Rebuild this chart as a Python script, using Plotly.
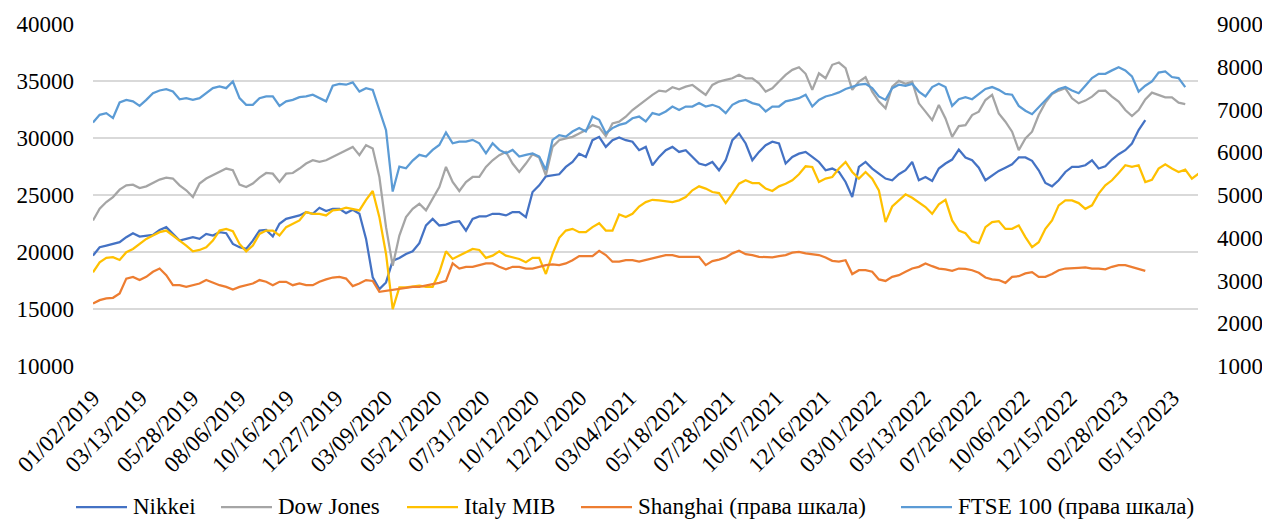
import pandas as pd
import plotly.graph_objects as go

# ---- category (date) grid: samples ~every 9.83 days starting 2019-01-02 ----
start_date = "2019-01-02"
step = "236h"

tick_labels = ["01/02/2019", "03/13/2019", "05/28/2019", "08/06/2019", "10/16/2019",
               "12/27/2019", "03/09/2020", "05/21/2020", "07/31/2020", "10/12/2020",
               "12/21/2020", "03/04/2021", "05/18/2021", "07/28/2021", "10/07/2021",
               "12/16/2021", "03/01/2022", "05/13/2022", "07/26/2022", "10/06/2022",
               "12/15/2022", "02/28/2023", "05/15/2023"]

nikkei = [19680, 20420, 20560, 20710, 20860, 21300, 21650, 21360, 21450, 21500,
          21940, 22180, 21590, 21000, 21150, 21300, 21150, 21590, 21450, 21740,
          21650, 20710, 20420, 20270, 21000, 21880, 21940, 21360, 22470, 22910,
          23060, 23210, 23500, 23350, 23880, 23590, 23790, 23790, 23410, 23700,
          23350, 21150, 17780, 16750, 17330, 19240, 19480, 19830, 20070, 20770,
          22330, 22910, 22330, 22410, 22620, 22710, 21880, 22910, 23120, 23120,
          23350, 23350, 23210, 23500, 23500, 23060, 25260, 25850, 26640, 26730,
          26820, 27460, 27900, 28630, 28340, 29810, 30100, 29220, 29810, 30050,
          29810, 29670, 28930, 29220, 27610, 28340, 28930, 29220, 28780, 28930,
          28340, 27760, 27610, 27900, 27170, 28050, 29810, 30400, 29520, 28050,
          28780, 29370, 29670, 29520, 27760, 28340, 28630, 28780, 28340, 27900,
          27170, 27320, 27020, 26140, 24820, 27460, 27900, 27320, 26880, 26440,
          26290, 26820, 27170, 27900, 26290, 26580, 26230, 27320, 27760, 28110,
          28990, 28290, 28050, 27400, 26290, 26730, 27110, 27400, 27700, 28290,
          28290, 28000, 27170, 26050, 25760, 26290, 27020, 27460, 27460, 27610,
          28050, 27320, 27520, 28110, 28580, 28930, 29520, 30700, 31570]

dow_jones = [22770, 23790, 24380, 24820, 25470, 25850, 25910, 25610, 25760, 26050,
             26350, 26520, 26440, 25850, 25410, 24820, 26000, 26440, 26730, 27020,
             27320, 27170, 25910, 25700, 26000, 26520, 26930, 26870, 26140, 26870,
             26930, 27320, 27760, 28050, 27900, 28050, 28340, 28580, 28930, 29220,
             28490, 29370, 29080, 26580, 22180, 18800, 21440, 23060, 23790, 24230,
             23650, 24670, 25700, 27460, 26140, 25350, 26140, 26580, 26580, 27460,
             28050, 28490, 28780, 27760, 27020, 27760, 28580, 28290, 26730, 29220,
             29810, 29960, 30100, 30400, 30690, 31130, 30930, 30160, 31280, 31430,
             31870, 32450, 32900, 33330, 33780, 34160, 34070, 34450, 34270, 34510,
             34660, 34210, 33780, 34660, 34950, 35100, 35240, 35540, 35240, 35240,
             34800, 34070, 34360, 34950, 35540, 35980, 36210, 35630, 34220, 35680,
             35240, 36420, 36620, 36120, 34220, 34950, 35330, 34070, 33190, 32600,
             34510, 35010, 34750, 34950, 33040, 32310, 31570, 32900, 31720, 30100,
             31040, 31130, 32010, 32310, 33330, 33780, 32160, 31430, 30550, 28930,
             29960, 30550, 32010, 33100, 33860, 34160, 34360, 33480, 33040, 33280,
             33630, 34130, 34160, 33630, 33190, 32450, 31930, 32450, 33390, 33980,
             33780, 33570, 33570, 33100, 32980]

italy_mib = [18220, 19100, 19480, 19540, 19300, 19980, 20270, 20710, 21150, 21450,
             21740, 21880, 21450, 21000, 20560, 20060, 20180, 20420, 21000, 21880,
             22030, 21820, 20710, 20060, 20560, 21590, 21880, 21880, 21450, 22180,
             22470, 22770, 23500, 23350, 23350, 23210, 23650, 23710, 23880, 23790,
             23650, 24580, 25350, 23060, 19830, 14990, 16890, 16890, 16950, 17040,
             16950, 16950, 18220, 20060, 19390, 19680, 19980, 20270, 20180, 19480,
             19680, 20060, 19680, 19540, 19390, 19100, 19480, 19480, 18070, 19830,
             21240, 21880, 22030, 21740, 21740, 22180, 22530, 21880, 21880, 23290,
             23060, 23350, 23990, 24380, 24580, 24530, 24470, 24380, 24530, 24820,
             25410, 25760, 25560, 25260, 25170, 24290, 25120, 25990, 26290, 26050,
             26050, 25560, 25350, 25760, 25990, 26290, 26820, 27520, 27460, 26140,
             26440, 26580, 27320, 27900, 27020, 26440, 27020, 26440, 25410, 22620,
             23990, 24530, 25060, 24760, 24380, 23940, 23350, 24180, 24580, 22770,
             21880, 21650, 20950, 20770, 22180, 22620, 22710, 22030, 22030, 22330,
             21300, 20420, 20860, 22030, 22770, 24090, 24530, 24530, 24290, 23790,
             24090, 25120, 25850, 26290, 26940, 27610, 27460, 27610, 26140, 26340,
             27320, 27700, 27320, 27020, 27230, 26440, 26880]

shanghai = [2460, 2540, 2580, 2595, 2695, 3045, 3085, 3010, 3085, 3205,
            3280, 3125, 2890, 2890, 2850, 2890, 2930, 3010, 2945, 2890,
            2850, 2790, 2850, 2890, 2930, 3010, 2970, 2890, 2970, 2970,
            2890, 2930, 2890, 2890, 2970, 3025, 3070, 3085, 3045, 2870,
            2930, 3010, 2990, 2735, 2760, 2790, 2810, 2835, 2850, 2850,
            2890, 2915, 2945, 2990, 3400, 3280, 3320, 3320, 3360, 3400,
            3400, 3320, 3260, 3320, 3320, 3280, 3280, 3320, 3360, 3380,
            3360, 3400, 3475, 3570, 3570, 3570, 3695, 3595, 3440, 3440,
            3475, 3475, 3440, 3475, 3515, 3555, 3595, 3595, 3555, 3555,
            3555, 3555, 3360, 3455, 3490, 3540, 3635, 3695, 3615, 3595,
            3555, 3555, 3540, 3570, 3595, 3650, 3670, 3635, 3615, 3595,
            3540, 3460, 3440, 3475, 3150, 3240, 3240, 3205, 3025, 2990,
            3085, 3125, 3205, 3280, 3320, 3400, 3335, 3280, 3260, 3225,
            3280, 3270, 3240, 3180, 3070, 3025, 3010, 2945, 3085, 3100,
            3165, 3195, 3085, 3085, 3150, 3240, 3280, 3280, 3295, 3305,
            3280, 3280, 3260, 3320, 3360, 3360, 3320, 3280, 3225]

ftse100 = [6695, 6875, 6915, 6800, 7165, 7225, 7190, 7085, 7225, 7380,
           7445, 7475, 7420, 7240, 7265, 7225, 7265, 7380, 7500, 7540,
           7500, 7655, 7265, 7110, 7110, 7265, 7305, 7305, 7085, 7190,
           7225, 7290, 7305, 7345, 7265, 7190, 7555, 7600, 7580, 7635,
           7420, 7500, 7460, 6990, 6515, 5080, 5665, 5625, 5805, 5940,
           5900, 6055, 6170, 6460, 6210, 6250, 6250, 6290, 6210, 5975,
           6210, 6055, 5975, 6055, 5900, 5940, 5975, 5900, 5585, 6290,
           6400, 6365, 6485, 6565, 6485, 6835, 6760, 6445, 6565, 6640,
           6680, 6795, 6835, 6720, 6915, 6875, 6955, 7070, 6990, 7070,
           7070, 7150, 7070, 7110, 7055, 6915, 7110, 7190, 7225, 7150,
           7110, 6955, 7070, 7070, 7190, 7225, 7265, 7345, 7070, 7225,
           7305, 7345, 7400, 7480, 7525, 7580, 7600, 7500, 7305, 7225,
           7500, 7580, 7555, 7600, 7420, 7305, 7525, 7600, 7525, 7085,
           7240, 7290, 7240, 7365, 7480, 7525, 7460, 7365, 7345, 7085,
           6970, 6890, 7055, 7240, 7380, 7480, 7525, 7445, 7380, 7555,
           7735, 7835, 7835, 7915, 7990, 7915, 7775, 7420, 7555, 7655,
           7865, 7890, 7760, 7735, 7525]

series = [
    ("Nikkei", nikkei, "#4472C4", "y"),
    ("Dow Jones", dow_jones, "#A5A5A5", "y"),
    ("Italy MIB", italy_mib, "#FFC000", "y"),
    ("Shanghai (права шкала)", shanghai, "#ED7D31", "y2"),
    ("FTSE 100 (права шкала)", ftse100, "#5B9BD5", "y2"),
]

n_max = max(len(s[1]) for s in series)
dates = pd.date_range(start_date, periods=n_max, freq=step)
tick_dates = pd.to_datetime(tick_labels, format="%m/%d/%Y")

FONT = "Liberation Serif"


def txt(size=23):
    return dict(family=FONT, size=size, color="black")


# page geometry (page px): plot area x 93..1198, y 24..366
PX_L, PX_R, PY_T, PY_B = 93, 1198, 24, 366


def px2paper_x(px):
    return (px - PX_L) / (PX_R - PX_L)


def py2paper_y(py):
    return (PY_B - py) / (PY_B - PY_T)


fig = go.Figure()
for name, vals, color, yax in series:
    fig.add_trace(go.Scatter(
        x=dates[:len(vals)], y=vals, name=name, mode="lines", yaxis=yax,
        line=dict(color=color, width=2.25), showlegend=False,
    ))

# legend drawn below the chart (line sample + label), Excel style
legend_line_start = [76, 221, 407, 581, 901]
LINE_LEN, TEXT_GAP, LEG_Y = 51, 55, 507
for (name, _, color, _), x0 in zip(series, legend_line_start):
    fig.add_shape(type="line", xref="paper", yref="paper",
                  x0=px2paper_x(x0), x1=px2paper_x(x0 + LINE_LEN),
                  y0=py2paper_y(LEG_Y), y1=py2paper_y(LEG_Y),
                  line=dict(color=color, width=2.25))
    fig.add_annotation(xref="paper", yref="paper", x=px2paper_x(x0 + TEXT_GAP),
                       y=py2paper_y(LEG_Y - 1), xanchor="left", yanchor="middle",
                       text=name, showarrow=False, font=txt())

# page body keeps its default 8px margin, so the figure is 1254x513 placed at (8, 8)
fig.update_layout(
    width=1254, height=513,
    margin=dict(l=85, r=64, t=16, b=155, autoexpand=False),
    paper_bgcolor="white", plot_bgcolor="white",
    font=txt(),
    showlegend=False,
    xaxis=dict(
        type="date", automargin=False,
        range=["2019-01-02", "2023-06-21 12:00"],
        tickvals=tick_dates, ticktext=tick_labels,
        tickangle=-45, showgrid=False, zeroline=False, showline=False,
        ticks="", ticklabelstandoff=13, tickfont=txt(),
    ),
    yaxis=dict(
        automargin=False,
        range=[10000, 40000], dtick=5000, tick0=10000,
        showgrid=True, gridcolor="#D9D9D9", gridwidth=1.5,
        zeroline=False, showline=False, ticks="", ticklabelstandoff=18,
        tickformat="d", tickfont=txt(),
    ),
    yaxis2=dict(
        automargin=False,
        range=[1000, 9000], dtick=1000, tick0=1000,
        overlaying="y", side="right", showgrid=False,
        zeroline=False, showline=False, ticks="", ticklabelstandoff=18,
        tickformat="d", tickfont=txt(),
    ),
    hovermode=False,
)

fig.write_html("out.html", config={"displayModeBar": False})
